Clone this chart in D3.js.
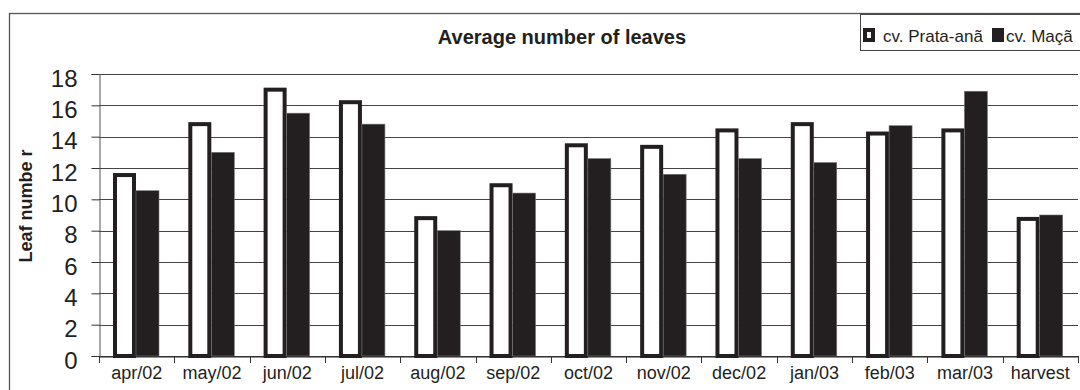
<!DOCTYPE html>
<html>
<head>
<meta charset="utf-8">
<script src="https://cdn.jsdelivr.net/npm/d3@7"></script>
<style>
  html, body { margin: 0; padding: 0; background: #fff; }
  svg { display: block; font-family: "Liberation Sans", Arial, sans-serif; }
</style>
</head>
<body>
<svg id="chart" width="1080" height="390"></svg>
<script>
// Monthly sampling dates plus harvest
const categories = ["apr/02", "may/02", "jun/02", "jul/02", "aug/02", "sep/02",
                    "oct/02", "nov/02", "dec/02", "jan/03", "feb/03", "mar/03", "harvest"];
const seriesNames = ["cv. Prata-anã", "cv. Maçã"];
const prataAna = [11.55, 14.8, 17.0, 16.2, 8.8, 10.9, 13.45, 13.35, 14.4, 14.8, 14.2, 14.4, 8.75];
const maca     = [10.55, 13.0, 15.5, 14.8, 8.0, 10.4, 12.6, 11.6, 12.6, 12.35, 14.7, 16.9, 9.0];
const yTicks = [0, 2, 4, 6, 8, 10, 12, 14, 16, 18];

const ink = "#231f20";
const svg = d3.select("#chart");

const plot = { left: 99, right: 1078, top: 74, bottom: 356 };

const x0 = d3.scaleBand().domain(categories).range([plot.left, plot.right]).paddingInner(0).paddingOuter(0);
const x1 = d3.scaleBand().domain(seriesNames).range([14, 60]).padding(0);
const y = d3.scaleLinear().domain([0, 18]).range([plot.bottom, plot.top]);

// Outer frame
svg.append("rect")
  .attr("x", 9.5).attr("y", 13.5).attr("width", 1100).attr("height", 400)
  .attr("fill", "none").attr("stroke", "#555").attr("stroke-width", 1.3);

// Title
svg.append("text")
  .attr("x", 562).attr("y", 44)
  .attr("text-anchor", "middle")
  .attr("font-weight", "bold").attr("font-size", 20)
  .attr("fill", ink)
  .text("Average number of leaves");

// Horizontal gridlines
svg.append("g").selectAll("line").data(yTicks).join("line")
  .attr("x1", plot.left).attr("x2", plot.right)
  .attr("y1", d => Math.round(y(d)) + 0.5).attr("y2", d => Math.round(y(d)) + 0.5)
  .attr("stroke", "#444").attr("stroke-width", 1);

// Y axis
const yAxis = svg.append("g")
  .attr("transform", `translate(${plot.left + 0.5},0)`)
  .call(d3.axisLeft(y).tickValues(yTicks).tickSize(8).tickPadding(14));
yAxis.select(".domain").attr("stroke", "#555");
yAxis.selectAll(".tick line").attr("stroke", "#333");
yAxis.selectAll(".tick text")
  .attr("font-size", 24).attr("fill", ink)
  .attr("font-family", "Liberation Sans, Arial, sans-serif")
  .attr("dy", "0.5em");

// Y axis title
svg.append("text")
  .attr("transform", "translate(32,206) rotate(-90)")
  .attr("text-anchor", "middle")
  .attr("font-weight", "bold").attr("font-size", 18)
  .attr("fill", ink)
  .text("Leaf numbe r");

// Bars
const rows = categories.map((c, i) => ({ cat: c, values: [prataAna[i], maca[i]] }));
const groups = svg.append("g").selectAll("g").data(rows).join("g")
  .attr("transform", d => `translate(${x0(d.cat)},0)`);

groups.append("rect")
  .attr("x", x1(seriesNames[0]) + 2)
  .attr("width", x1.bandwidth() - 4)
  .attr("y", d => y(d.values[0]))
  .attr("height", d => y(0) - y(d.values[0]))
  .attr("fill", "#fff").attr("stroke", ink).attr("stroke-width", 4);

groups.append("rect")
  .attr("x", x1(seriesNames[1]))
  .attr("width", x1.bandwidth())
  .attr("y", d => y(d.values[1]))
  .attr("height", d => y(0) - y(d.values[1]))
  .attr("fill", ink).attr("stroke", "#777").attr("stroke-width", 0.6);

// X axis
const xAxis = svg.append("g")
  .attr("transform", `translate(0,${plot.bottom + 0.5})`)
  .call(d3.axisBottom(x0).tickSize(0).tickPadding(12));
xAxis.select(".domain").attr("stroke", "#222");
xAxis.selectAll(".tick text")
  .attr("font-size", 18).attr("fill", ink)
  .attr("font-family", "Liberation Sans, Arial, sans-serif")
  .attr("dy", "0.6em");

// Category separator ticks below the x axis
const bounds = categories.map(c => x0(c)).concat([plot.right]);
svg.append("g").selectAll("line").data(bounds).join("line")
  .attr("x1", d => Math.round(d) + 0.5).attr("x2", d => Math.round(d) + 0.5)
  .attr("y1", plot.bottom).attr("y2", plot.bottom + 7)
  .attr("stroke", "#333").attr("stroke-width", 1);

// Legend
const legend = svg.append("g");
legend.append("rect")
  .attr("x", 860.5).attr("y", 14.5).attr("width", 240).attr("height", 36)
  .attr("fill", "#fff").attr("stroke", "#444").attr("stroke-width", 1);
legend.append("rect")
  .attr("x", 865).attr("y", 30).attr("width", 8).attr("height", 10)
  .attr("fill", "#fff").attr("stroke", ink).attr("stroke-width", 4);
legend.append("text")
  .attr("x", 883).attr("y", 41.5)
  .attr("font-size", 17).attr("fill", ink)
  .text(seriesNames[0]);
legend.append("rect")
  .attr("x", 992).attr("y", 28).attr("width", 12).attr("height", 14)
  .attr("fill", ink);
legend.append("text")
  .attr("x", 1006).attr("y", 41.5)
  .attr("font-size", 17).attr("fill", ink)
  .text(seriesNames[1]);
</script>
</body>
</html>
